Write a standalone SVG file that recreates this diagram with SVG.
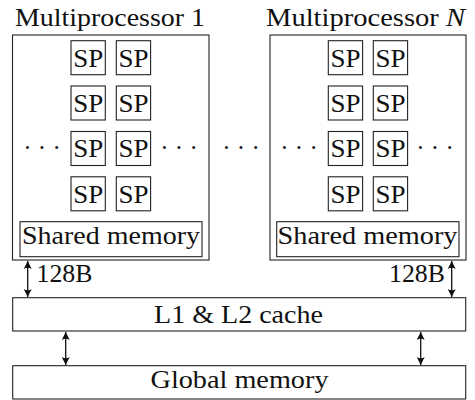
<svg xmlns="http://www.w3.org/2000/svg" width="475" height="400" viewBox="0 0 475 400">
<defs>
<style>
.box{fill:#fff;stroke:#222;stroke-width:1.1}
.lbl{font-family:'Liberation Serif',serif;font-size:25px;fill:#111}
.mid{text-anchor:middle}
.ln{stroke:#111;stroke-width:1.3;fill:none}
</style>
<marker id="ah" viewBox="-10 -5 12 10" markerWidth="12" markerHeight="10" refX="0" refY="0" orient="auto-start-reverse" markerUnits="userSpaceOnUse">
<path d="M0,0 L-8,-4 Q-5.5,0 -8,4 Z" fill="#111"/>
</marker>
</defs>
<rect width="475" height="400" fill="#fff"/>

<g id="mp1">
<text class="lbl mid" x="110" y="26" textLength="190" lengthAdjust="spacingAndGlyphs">Multiprocessor 1</text>
<rect class="box" x="12.5" y="35" width="196.5" height="225"/>
<g id="mp1-sp">
<rect class="box" x="71" y="40.7" width="34.3" height="34"/><text class="lbl mid" x="88.2" y="66.5" textLength="30" lengthAdjust="spacingAndGlyphs">SP</text>
<rect class="box" x="116.3" y="40.7" width="34.3" height="34"/><text class="lbl mid" x="133.5" y="66.5" textLength="30" lengthAdjust="spacingAndGlyphs">SP</text>
<rect class="box" x="71" y="86" width="34.3" height="34"/><text class="lbl mid" x="88.2" y="111.8" textLength="30" lengthAdjust="spacingAndGlyphs">SP</text>
<rect class="box" x="116.3" y="86" width="34.3" height="34"/><text class="lbl mid" x="133.5" y="111.8" textLength="30" lengthAdjust="spacingAndGlyphs">SP</text>
<rect class="box" x="71" y="131.5" width="34.3" height="34"/><text class="lbl mid" x="88.2" y="157.3" textLength="30" lengthAdjust="spacingAndGlyphs">SP</text>
<rect class="box" x="116.3" y="131.5" width="34.3" height="34"/><text class="lbl mid" x="133.5" y="157.3" textLength="30" lengthAdjust="spacingAndGlyphs">SP</text>
<rect class="box" x="71" y="176.8" width="34.3" height="34"/><text class="lbl mid" x="88.2" y="202.6" textLength="30" lengthAdjust="spacingAndGlyphs">SP</text>
<rect class="box" x="116.3" y="176.8" width="34.3" height="34"/><text class="lbl mid" x="133.5" y="202.6" textLength="30" lengthAdjust="spacingAndGlyphs">SP</text>
</g>
<text class="lbl mid" x="42" y="156">&#183; &#183; &#183;</text>
<text class="lbl mid" x="179" y="156">&#183; &#183; &#183;</text>
<rect class="box" x="20" y="221.7" width="182" height="35"/>
<text class="lbl mid" x="111" y="244" textLength="178" lengthAdjust="spacingAndGlyphs">Shared memory</text>
</g>

<text id="mid-dots" class="lbl mid" x="241" y="156">&#183; &#183; &#183;</text>

<g id="mpN">
<text class="lbl mid" x="365.5" y="26" textLength="199" lengthAdjust="spacingAndGlyphs">Multiprocessor <tspan font-style="italic">N</tspan></text>
<rect class="box" x="270" y="35" width="196" height="225"/>
<g id="mpN-sp">
<rect class="box" x="328.3" y="40.7" width="34.3" height="34"/><text class="lbl mid" x="345.5" y="66.5" textLength="30" lengthAdjust="spacingAndGlyphs">SP</text>
<rect class="box" x="373.3" y="40.7" width="34.3" height="34"/><text class="lbl mid" x="390.5" y="66.5" textLength="30" lengthAdjust="spacingAndGlyphs">SP</text>
<rect class="box" x="328.3" y="86" width="34.3" height="34"/><text class="lbl mid" x="345.5" y="111.8" textLength="30" lengthAdjust="spacingAndGlyphs">SP</text>
<rect class="box" x="373.3" y="86" width="34.3" height="34"/><text class="lbl mid" x="390.5" y="111.8" textLength="30" lengthAdjust="spacingAndGlyphs">SP</text>
<rect class="box" x="328.3" y="131.5" width="34.3" height="34"/><text class="lbl mid" x="345.5" y="157.3" textLength="30" lengthAdjust="spacingAndGlyphs">SP</text>
<rect class="box" x="373.3" y="131.5" width="34.3" height="34"/><text class="lbl mid" x="390.5" y="157.3" textLength="30" lengthAdjust="spacingAndGlyphs">SP</text>
<rect class="box" x="328.3" y="176.8" width="34.3" height="34"/><text class="lbl mid" x="345.5" y="202.6" textLength="30" lengthAdjust="spacingAndGlyphs">SP</text>
<rect class="box" x="373.3" y="176.8" width="34.3" height="34"/><text class="lbl mid" x="390.5" y="202.6" textLength="30" lengthAdjust="spacingAndGlyphs">SP</text>
</g>
<text class="lbl mid" x="299" y="156">&#183; &#183; &#183;</text>
<text class="lbl mid" x="435" y="156">&#183; &#183; &#183;</text>
<rect class="box" x="276.7" y="221.7" width="182.3" height="35"/>
<text class="lbl mid" x="367.5" y="244" textLength="180" lengthAdjust="spacingAndGlyphs">Shared memory</text>
</g>

<g id="cache">
<rect class="box" x="12.7" y="297.7" width="453" height="33.3"/>
<text class="lbl mid" x="238.5" y="322.5" textLength="169" lengthAdjust="spacingAndGlyphs">L1 &amp; L2 cache</text>
</g>

<g id="global">
<rect class="box" x="12.7" y="365.7" width="453" height="33.3"/>
<text class="lbl mid" x="239.5" y="388" textLength="178" lengthAdjust="spacingAndGlyphs">Global memory</text>
</g>

<g id="connectors">
<line class="ln" x1="27.7" y1="261" x2="27.7" y2="297" marker-start="url(#ah)" marker-end="url(#ah)"/>
<text class="lbl" x="36.5" y="281.5" textLength="56" lengthAdjust="spacingAndGlyphs">128B</text>
<line class="ln" x1="451.7" y1="261" x2="451.7" y2="297" marker-start="url(#ah)" marker-end="url(#ah)"/>
<text class="lbl" x="389" y="281.5" textLength="56" lengthAdjust="spacingAndGlyphs">128B</text>
<line class="ln" x1="65.7" y1="332" x2="65.7" y2="365" marker-start="url(#ah)" marker-end="url(#ah)"/>
<line class="ln" x1="420.7" y1="332" x2="420.7" y2="365" marker-start="url(#ah)" marker-end="url(#ah)"/>
</g>
</svg>
